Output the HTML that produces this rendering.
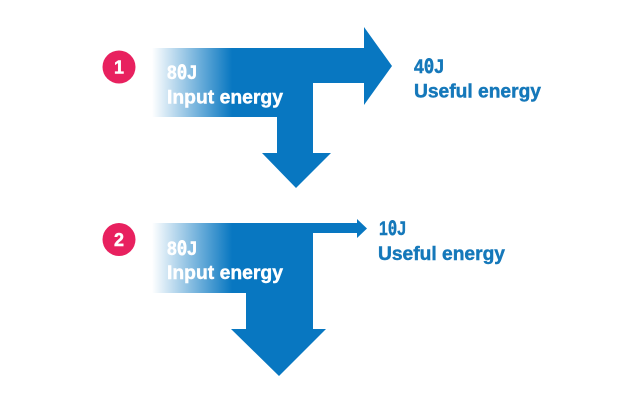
<!DOCTYPE html>
<html><head><meta charset="utf-8"><style>
html,body{margin:0;padding:0;background:#fff}
svg{display:block}
text{font-family:"Liberation Sans",sans-serif;font-weight:700;font-size:19.500px;stroke-width:.45px}
.z{font-family:"DejaVu Sans Mono",monospace}
.w{fill:#fff;stroke:#fff}.b{fill:#1578ba;stroke:#1578ba}
.n{fill:#fff;stroke:#fff;font-size:18px;text-anchor:middle}
</style></head><body>
<svg width="640" height="400" viewBox="0 0 640 400" xmlns="http://www.w3.org/2000/svg">
<defs>
<linearGradient id="g1" gradientUnits="userSpaceOnUse" x1="152" y1="0" x2="232" y2="0"><stop offset="0" stop-color="#0877c1" stop-opacity="0"/><stop offset="1" stop-color="#0877c1"/></linearGradient>
</defs>
<path fill="url(#g1)" d="M152 48H364V27L392 66L364 105V83H313V153H331L296 188L262 153H277V117H152Z"/>
<path fill="url(#g1)" d="M152 223H357V219L367 228.500L357 238V233H313V329H326L279 376L231 329H246V293H152Z"/>
<circle cx="119" cy="67" r="16.500" fill="#e8215f"/>
<circle cx="119" cy="239.500" r="16.500" fill="#e8215f"/>
<text class="n" x="119" y="73.500">1</text>
<text class="n" x="119" y="246">2</text>
<text class="w" x="167" y="79" textLength="30" lengthAdjust="spacingAndGlyphs">8<tspan class="z">0</tspan>J</text>
<text class="w" x="167" y="103.500" textLength="116" lengthAdjust="spacingAndGlyphs">Input energy</text>
<text class="w" x="167" y="255" textLength="30" lengthAdjust="spacingAndGlyphs">8<tspan class="z">0</tspan>J</text>
<text class="w" x="167" y="279" textLength="116" lengthAdjust="spacingAndGlyphs">Input energy</text>
<text class="b" x="414" y="73" textLength="30" lengthAdjust="spacingAndGlyphs">4<tspan class="z">0</tspan>J</text>
<text class="b" x="414" y="97.500" textLength="127" lengthAdjust="spacingAndGlyphs">Useful energy</text>
<text class="b" x="379" y="235" textLength="27" lengthAdjust="spacingAndGlyphs">1<tspan class="z">0</tspan>J</text>
<text class="b" x="378" y="260" textLength="127" lengthAdjust="spacingAndGlyphs">Useful energy</text>
</svg>
</body></html>
